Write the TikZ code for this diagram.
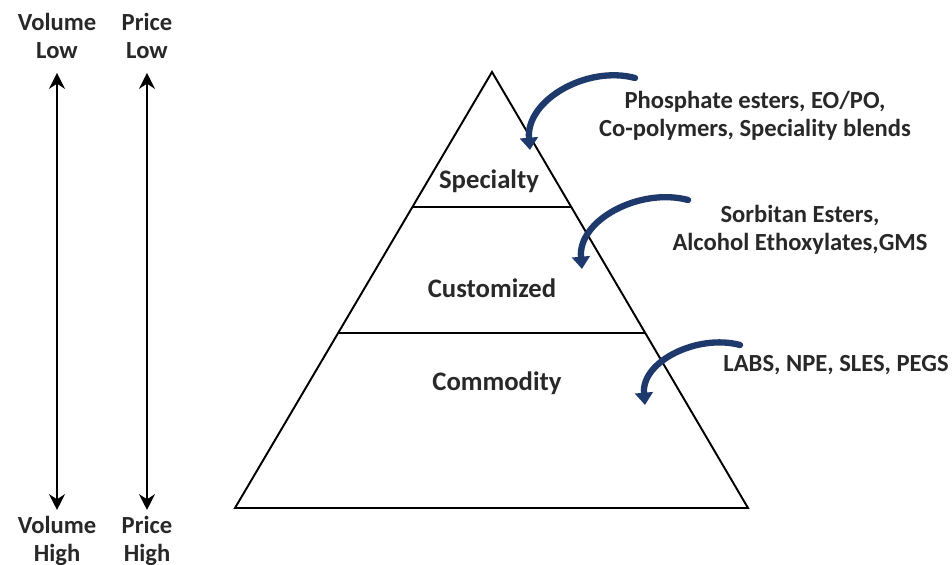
\documentclass[tikz,border=0pt]{standalone}
\usepackage{fontspec}
\setmainfont{Carlito}
\usetikzlibrary{arrows.meta,calc}

\definecolor{swoosh}{RGB}{30,58,108}
\definecolor{txt}{RGB}{40,40,40}

\tikzset{
    lbl/.style={font=\bfseries\fontsize{14}{15.9}\selectfont, text=txt, align=center, inner sep=1pt},
    tier/.style={font=\bfseries\fontsize{15.2}{17}\selectfont, text=txt, inner sep=1pt},
    side/.style={font=\bfseries\fontsize{14}{15.9}\selectfont, text=txt, align=center, inner sep=1pt},
    swoop/.style={draw=swoosh, line width=3.6pt, line cap=round, -{Triangle[length=7pt,width=10pt]}},
}

\begin{document}
\begin{tikzpicture}[>={Stealth[length=9pt,width=9pt]}, line width=1.1pt]
        \useasboundingbox (0,0) rectangle (19.04,11.30);

        \begin{scope}[local bounding box=axes]
            \node[side] (vlow) at (1.14,10.58) {Volume\\Low};
            \node[side] (plow) at (2.94,10.58) {Price\\Low};
            \node[side] (vhigh) at (1.14,0.49) {Volume\\High};
            \node[side] (phigh) at (2.94,0.49) {Price\\High};

            \coordinate (vtop) at (1.14,9.84);
            \coordinate (vbot) at (1.14,1.10);
            \coordinate (ptop) at (2.94,9.84);
            \coordinate (pbot) at (2.94,1.10);

            \draw[<->] (vtop) -- (vbot);
            \draw[<->] (ptop) -- (pbot);
        \end{scope}

        \begin{scope}[local bounding box=pyramid]
            \coordinate (apex) at (9.84,9.86);
            \coordinate (bl) at (4.70,1.14);
            \coordinate (br) at (14.96,1.14);

            \draw (apex) -- (br) -- (bl) -- cycle;
            \draw ($(apex)!0.31!(bl)$) -- ($(apex)!0.31!(br)$);
            \draw ($(apex)!0.599!(bl)$) -- ($(apex)!0.599!(br)$);

            \node[tier] (special) at (9.78,7.68) {Specialty};
            \node[tier] (custom) at (9.84,5.54) {Customized};
            \node[tier] (commod) at (9.94,3.64) {Commodity};
        \end{scope}

        \node[lbl] (phos) at (15.10,8.98) {Phosphate esters, EO/PO,\\Co-polymers, Speciality blends};
        \node[lbl] (sorb) at (16.00,6.70) {Sorbitan Esters,\\Alcohol Ethoxylates,GMS};
        \node[lbl] (labs) at (16.72,4.00) {LABS, NPE, SLES, PEGS};

        \coordinate (s1) at (12.70,9.74);
        \coordinate (t1) at (10.60,8.30);
        \coordinate (s2) at (13.76,7.30);
        \coordinate (t2) at (11.64,5.92);
        \coordinate (s3) at (14.80,4.40);
        \coordinate (t3) at (12.90,3.20);

        \draw[swoop] (s1) to[out=165,in=95] (t1);
        \draw[swoop] (s2) to[out=165,in=95] (t2);
        \draw[swoop] (s3) to[out=165,in=95] (t3);

\end{tikzpicture}
\end{document}
